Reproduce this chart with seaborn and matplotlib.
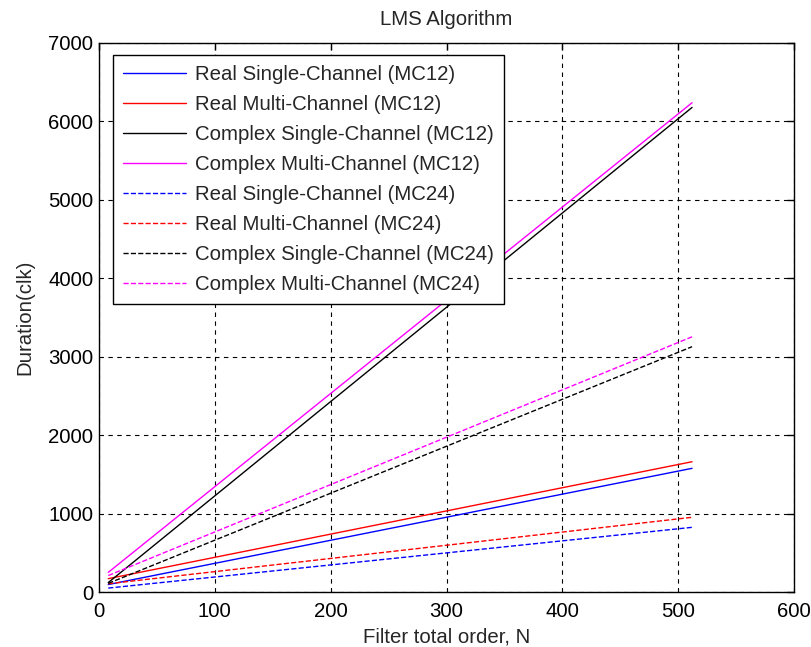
import matplotlib
matplotlib.use("Agg")
import matplotlib.pyplot as plt
import seaborn as sns
import pandas as pd

# Filter order endpoints
N = [8, 512]

labels = [
    "Real Single-Channel (MC12)",
    "Real Multi-Channel (MC12)",
    "Complex Single-Channel (MC12)",
    "Complex Multi-Channel (MC12)",
    "Real Single-Channel (MC24)",
    "Real Multi-Channel (MC24)",
    "Complex Single-Channel (MC24)",
    "Complex Multi-Channel (MC24)",
]

real_single_mc12 = [95, 1576]
real_multi_mc12 = [170, 1660]
complex_single_mc12 = [120, 6175]
complex_multi_mc12 = [250, 6235]
real_single_mc24 = [50, 824]
real_multi_mc24 = [105, 952]
complex_single_mc24 = [110, 3126]
complex_multi_mc24 = [210, 3252]

series = [real_single_mc12, real_multi_mc12, complex_single_mc12, complex_multi_mc12,
          real_single_mc24, real_multi_mc24, complex_single_mc24, complex_multi_mc24]
colors = ["#0000ff", "#ff0000", "#000000", "#ff00ff"] * 2
styles = ["-"] * 4 + ["--"] * 4

sns.set_style("white")
plt.rcParams["font.family"] = ["Liberation Sans", "DejaVu Sans"]

FS = 14.7
fig = plt.figure(figsize=(8.12, 6.47), dpi=100)
ax = fig.add_axes([99 / 812, 1 - 592 / 647, 695 / 812, 549.3 / 647])

for lab, vals, c, ls in zip(labels, series, colors, styles):
    df = pd.DataFrame({"N": N, "D": vals})
    sns.lineplot(data=df, x="N", y="D", ax=ax, color=c, linestyle=ls,
                 linewidth=1.0, label=lab)

ax.set_xlim(0, 600)
ax.set_ylim(0, 7000)
ax.set_xticks(range(0, 601, 100))
ax.set_yticks(range(0, 7001, 1000))
ax.grid(True, color="black", linestyle=(0, (4, 4)), linewidth=0.8)
ax.set_axisbelow(True)
for sp in ax.spines.values():
    sp.set_color("black")
    sp.set_linewidth(1.0)
    sp.set_visible(True)
ax.tick_params(direction="in", length=5, top=True, right=True, labelsize=FS,
               colors="black", width=1)
ax.tick_params(axis="x", pad=7)
ax.tick_params(axis="y", pad=4)
ax.set_xlabel("Filter total order, N", fontsize=FS, labelpad=5)
ax.set_ylabel("Duration(clk)", fontsize=FS, labelpad=10)
ax.set_title("LMS Algorithm", fontsize=FS, pad=13)

leg = ax.legend(loc="upper left", bbox_to_anchor=(0.02, 0.978), fontsize=FS,
                frameon=True, fancybox=False, edgecolor="black", framealpha=1,
                handlelength=3.1, handletextpad=0.4, labelspacing=0.54,
                borderpad=0.5, borderaxespad=0)
leg.get_frame().set_linewidth(1.0)

fig.savefig("out.png", dpi=100)
